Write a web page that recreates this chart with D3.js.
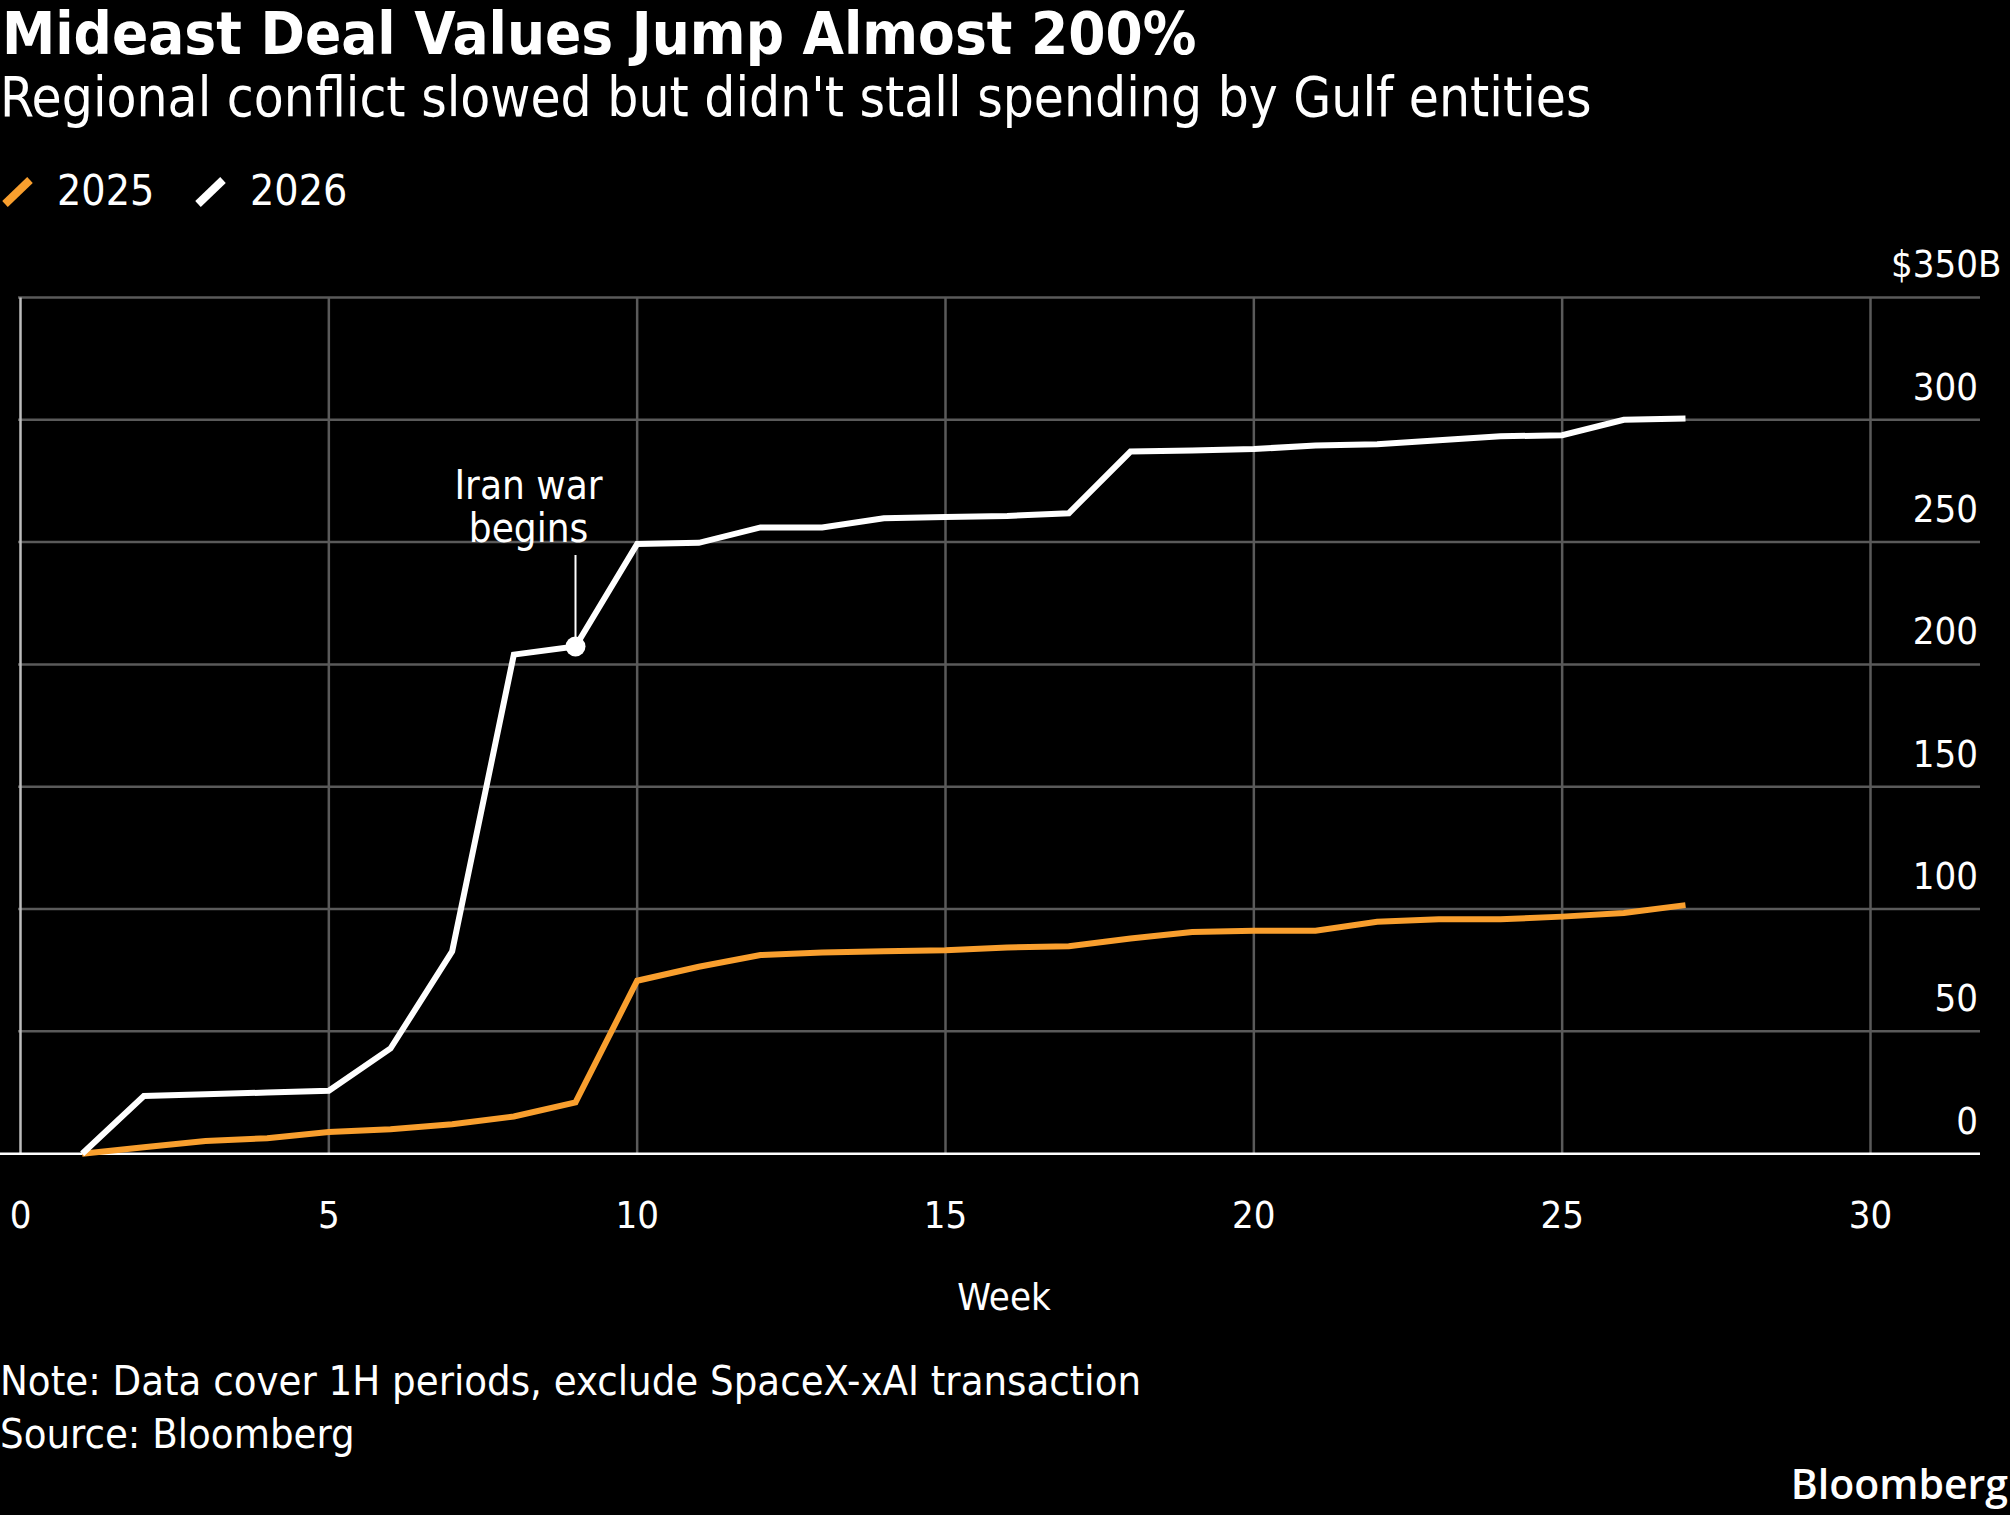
<!DOCTYPE html>
<html>

<head>
  <title>Mideast Deal Values</title>
  <script src="https://cdn.jsdelivr.net/npm/d3@7"></script>
  <style>
    body { margin: 0; background: #000; }
    text { font-family: "DejaVu Sans Condensed", "DejaVu Sans", sans-serif; font-stretch: condensed; fill: #fff; }
  </style>
</head>

<body>
  <svg width="2010" height="1515" id="mainsvg"></svg>
  <script>
    // data (cumulative deal value, $B, by week)
    const weeks = d3.range(1, 28);
    const values2025 = [0, 2.6, 5.2, 6.3, 8.9, 10, 12, 15.2, 21, 70.7, 76.4, 81.2, 82.2, 82.7, 83.2, 84.3, 84.8,
                        88, 90.6, 91.1, 91.1, 94.8, 95.8, 95.8, 96.9, 98.4, 101.6];
    const values2026 = [0, 23.6, 24.3, 25, 25.7, 43, 82.7, 204, 207.3, 249.2, 249.7, 256, 256, 259.7, 260.2, 260.7, 261.8,
                        287, 287.4, 288, 289.5, 290, 291.6, 293.2, 293.7, 300, 300.5];
    const seriesNames = ['2025', '2026'];
    const seriesColors = ['#f99f2e', '#ffffff'];
    const xTicks = [0, 5, 10, 15, 20, 25, 30];
    const yTicks = [0, 50, 100, 150, 200, 250, 300, 350];
    const annotationWeek = 9;
    const annotationText = ['Iran war', 'begins'];

    const svg = d3.select('svg');
    const width = +svg.attr('width');
    const height = +svg.attr('height');

    svg.append('rect').attr('width', width).attr('height', height).attr('fill', '#000');

    const x = d3.scaleLinear().domain([0, 30]).range([20.5, 1870.5]);
    const y = d3.scaleLinear().domain([0, 350]).range([1153.7, 297.4]);
    const gridRight = 1980;

    // titles
    svg.append('text').attr('x', 2).attr('y', 54)
      .style('font-size', '59.5px').style('font-weight', 'bold')
      .text('Mideast Deal Values Jump Almost 200%');
    svg.append('text').attr('x', 0).attr('y', 116)
      .style('font-size', '54.5px')
      .text("Regional conflict slowed but didn't stall spending by Gulf entities");

    // legend
    const legend = svg.append('g').selectAll('g').data(seriesNames).join('g')
      .attr('transform', (d, i) => `translate(${[3, 196][i]}, 0)`);
    legend.append('line')
      .attr('x1', 2).attr('y1', 204).attr('x2', 27).attr('y2', 180)
      .attr('stroke', (d, i) => seriesColors[i]).attr('stroke-width', 8);
    legend.append('text').attr('x', 54).attr('y', 205)
      .style('font-size', '42.5px').text(d => d);

    // grid
    svg.append('g').selectAll('line').data(yTicks.filter(d => d > 0)).join('line')
      .attr('x1', 18).attr('x2', gridRight)
      .attr('y1', d => y(d)).attr('y2', d => y(d))
      .attr('stroke', '#5a5a5a').attr('stroke-width', 2.5);
    svg.append('g').selectAll('line').data(xTicks).join('line')
      .attr('x1', d => x(d)).attr('x2', d => x(d))
      .attr('y1', y(350)).attr('y2', y(0))
      .attr('stroke', d => d === 0 ? '#bdbdbd' : '#5a5a5a').attr('stroke-width', 2.5);
    svg.append('line')
      .attr('x1', 0).attr('x2', gridRight).attr('y1', y(0)).attr('y2', y(0))
      .attr('stroke', '#fff').attr('stroke-width', 2.5);

    // y labels
    svg.append('g').selectAll('text').data(yTicks).join('text')
      .attr('x', 1978).attr('y', d => y(d) - 20)
      .attr('text-anchor', 'end')
      .style('font-size', '38px')
      .text(d => d === 350 ? '$350' : d);
    svg.append('text').attr('x', 1978).attr('y', y(350) - 20)
      .style('font-size', '38px').text('B');

    // x labels
    svg.append('g').selectAll('text').data(xTicks).join('text')
      .attr('x', d => x(d)).attr('y', 1228)
      .attr('text-anchor', 'middle')
      .style('font-size', '38px')
      .text(d => d);
    svg.append('text').attr('x', 1004).attr('y', 1310)
      .attr('text-anchor', 'middle').style('font-size', '38px').text('Week');

    // lines
    const line = d3.line().x(d => x(d[0])).y(d => y(d[1]));
    [values2025, values2026].forEach((vals, i) => {
      svg.append('path')
        .datum(weeks.map((w, j) => [w, vals[j]]))
        .attr('d', line)
        .attr('fill', 'none')
        .attr('stroke', seriesColors[i])
        .attr('stroke-width', 6)
        .attr('stroke-linejoin', 'miter');
    });

    // annotation
    const ax = x(annotationWeek);
    const ay = y(values2026[annotationWeek - 1]);
    svg.append('line').attr('x1', ax).attr('x2', ax).attr('y1', 555).attr('y2', ay)
      .attr('stroke', '#fff').attr('stroke-width', 2);
    svg.append('circle').attr('cx', ax).attr('cy', ay).attr('r', 10).attr('fill', '#fff');
    svg.append('g').selectAll('text').data(annotationText).join('text')
      .attr('x', ax - 47).attr('y', (d, i) => 499 + i * 43)
      .attr('text-anchor', 'middle').style('font-size', '40px')
      .text(d => d);

    // footer
    svg.append('text').attr('x', 0).attr('y', 1395).style('font-size', '41.4px')
      .text('Note: Data cover 1H periods, exclude SpaceX-xAI transaction');
    svg.append('text').attr('x', 0).attr('y', 1448).style('font-size', '41.4px')
      .text('Source: Bloomberg');
    svg.append('text').attr('x', 2008).attr('y', 1499).attr('text-anchor', 'end')
      .style('font-family', '"Open Sans", Lato, sans-serif').style('font-stretch', 'normal')
      .style('font-size', '41px').style('font-weight', '600')
      .text('Bloomberg');
  </script>
</body>

</html>
